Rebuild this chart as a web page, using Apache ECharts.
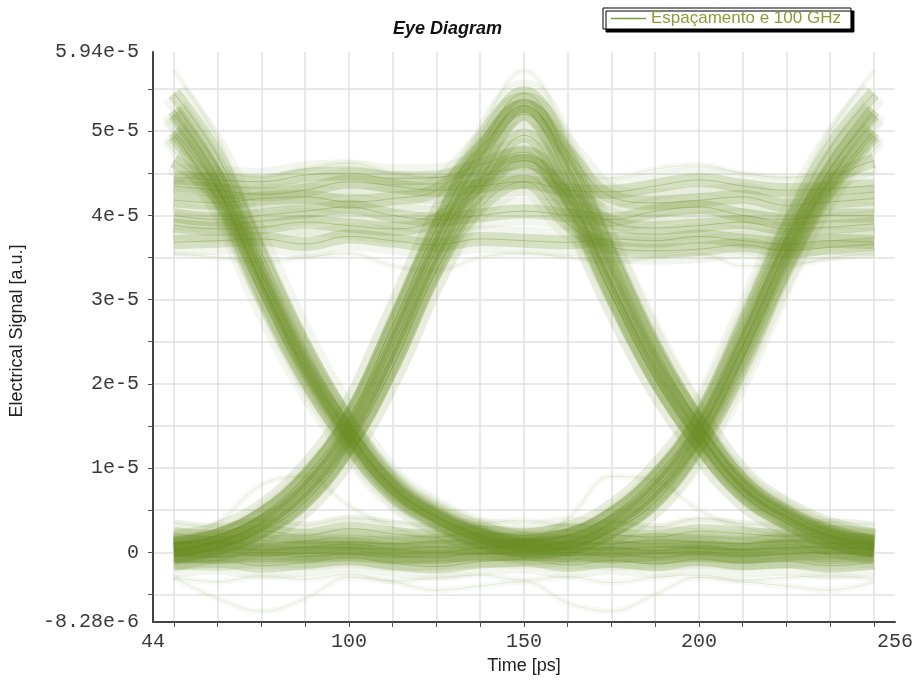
<!DOCTYPE html>
<html>
<head>
<meta charset="utf-8">
<title>Eye Diagram</title>
<script src="https://cdn.jsdelivr.net/npm/echarts@6/dist/echarts.min.js"></script>
<style>
  html, body { margin: 0; padding: 0; background: #fff; }
  #chart { width: 916px; height: 682px; }
</style>
</head>
<body>
<div id="chart"></div>
<script>
// sample times in ps (one point every 12.5 ps over two bit slots)
const times = [50, 62.5, 75, 87.5, 100, 112.5, 125, 137.5, 150, 162.5, 175, 187.5, 200, 212.5, 225, 237.5, 250];

// traces, values in units of 1e-5 a.u., grouped by 3-bit pattern
const pat000 = [
  [0.05, 0.08, 0.02, 0.06, 0.10, 0.04, 0.00, 0.05, 0.08, 0.03, 0.06, 0.02, 0.07, 0.04, 0.09, 0.05, 0.06],
  [-0.14, -0.10, -0.16, -0.12, -0.07, -0.13, -0.17, -0.11, -0.09, -0.15, -0.10, -0.14, -0.08, -0.13, -0.11, -0.16, -0.12],
  [0.22, 0.18, 0.25, 0.20, 0.28, 0.22, 0.18, 0.24, 0.20, 0.26, 0.21, 0.18, 0.25, 0.22, 0.19, 0.24, 0.20],
  [-0.03, -0.05, 0.00, -0.02, 0.02, -0.04, -0.06, -0.01, -0.03, 0.00, -0.05, -0.02, 0.01, -0.04, -0.02, 0.00, -0.03]
];
const pat111 = [
  [4.00, 3.95, 4.00, 4.05, 4.10, 4.00, 3.95, 4.00, 4.05, 4.00, 3.95, 4.05, 4.10, 4.00, 3.95, 4.00, 4.00],
  [4.35, 4.30, 4.25, 4.30, 4.40, 4.35, 4.30, 4.35, 4.40, 4.30, 4.28, 4.35, 4.42, 4.35, 4.30, 4.32, 4.35],
  [3.68, 3.70, 3.72, 3.66, 3.75, 3.70, 3.65, 3.72, 3.70, 3.68, 3.72, 3.70, 3.75, 3.70, 3.66, 3.70, 3.68]
];
const pat010 = [
  [0.02, 0.12, 0.35, 0.75, 1.42, 2.45, 3.60, 4.55, 5.20, 4.45, 3.30, 2.25, 1.42, 0.77, 0.42, 0.20, 0.08],
  [0.08, 0.20, 0.45, 0.90, 1.60, 2.70, 3.85, 4.80, 5.45, 4.70, 3.55, 2.45, 1.55, 0.85, 0.48, 0.25, 0.12],
  [-0.05, 0.05, 0.25, 0.60, 1.25, 2.20, 3.35, 4.30, 4.95, 4.20, 3.05, 2.05, 1.28, 0.68, 0.35, 0.12, 0.02]
];
const pat101 = [
  [5.20, 4.45, 3.30, 2.25, 1.42, 0.77, 0.42, 0.20, 0.08, 0.12, 0.35, 0.75, 1.42, 2.45, 3.60, 4.55, 5.20],
  [5.45, 4.70, 3.55, 2.45, 1.55, 0.85, 0.48, 0.25, 0.12, 0.20, 0.45, 0.90, 1.60, 2.70, 3.85, 4.80, 5.45],
  [4.95, 4.20, 3.05, 2.05, 1.28, 0.68, 0.35, 0.12, 0.02, 0.05, 0.25, 0.60, 1.25, 2.20, 3.35, 4.30, 4.95]
];
const pat100 = [
  [5.25, 4.45, 3.30, 2.25, 1.42, 0.77, 0.42, 0.20, 0.08, 0.05, 0.04, 0.06, 0.05, 0.03, 0.06, 0.05, 0.04],
  [4.65, 4.20, 3.20, 2.20, 1.42, 0.80, 0.45, 0.22, 0.10, 0.12, 0.10, 0.15, 0.12, 0.10, 0.14, 0.10, 0.12],
  [5.00, 4.30, 3.20, 2.15, 1.35, 0.72, 0.36, 0.14, 0.02, -0.04, -0.02, -0.06, -0.03, -0.05, -0.02, -0.06, -0.04]
];
const pat001 = [
  [0.04, 0.05, 0.03, 0.06, 0.05, 0.04, 0.06, 0.05, 0.08, 0.12, 0.35, 0.75, 1.42, 2.45, 3.60, 4.55, 5.25],
  [0.12, 0.10, 0.14, 0.11, 0.12, 0.10, 0.13, 0.15, 0.14, 0.20, 0.45, 0.90, 1.55, 2.60, 3.70, 4.40, 4.65],
  [-0.04, -0.06, -0.03, -0.05, -0.02, -0.06, -0.04, -0.02, 0.00, 0.05, 0.25, 0.60, 1.30, 2.30, 3.40, 4.35, 5.00]
];
const pat011 = [
  [0.03, 0.12, 0.35, 0.75, 1.42, 2.45, 3.60, 4.40, 4.65, 4.25, 3.92, 3.85, 3.88, 3.92, 3.84, 3.86, 3.90],
  [0.10, 0.20, 0.45, 0.90, 1.60, 2.70, 3.85, 4.75, 5.30, 4.75, 4.22, 4.15, 4.18, 4.22, 4.12, 4.16, 4.20],
  [-0.04, 0.05, 0.25, 0.60, 1.25, 2.20, 3.35, 4.10, 4.40, 3.90, 3.62, 3.58, 3.60, 3.65, 3.58, 3.62, 3.66]
];
const pat110 = [
  [3.88, 3.84, 3.86, 3.92, 3.88, 3.84, 3.95, 4.35, 4.65, 4.20, 3.20, 2.20, 1.42, 0.80, 0.45, 0.22, 0.10],
  [4.18, 4.15, 4.20, 4.22, 4.16, 4.20, 4.30, 4.80, 5.30, 4.60, 3.50, 2.40, 1.55, 0.85, 0.48, 0.25, 0.12],
  [4.45, 4.42, 4.40, 4.48, 4.50, 4.44, 4.45, 4.60, 4.75, 4.10, 3.05, 2.05, 1.28, 0.68, 0.35, 0.12, 0.02]
];
// faint outlier traces
const faint = [
  [0.10, 0.35, 0.80, 0.90, 0.55, 0.30, 0.15, 0.10, 0.12, 0.40, 0.90, 0.85, 0.50, 0.30, 0.20, 0.15, 0.10],
  [-0.30, -0.55, -0.70, -0.55, -0.30, -0.35, -0.45, -0.40, -0.35, -0.60, -0.70, -0.50, -0.30, -0.35, -0.40, -0.45, -0.35],
  [-0.30, -0.35, -0.28, -0.32, -0.26, -0.34, -0.30, -0.27, -0.33, -0.29, -0.36, -0.30, -0.27, -0.33, -0.30, -0.28, -0.32],
  [0.35, 0.30, 0.38, 0.32, 0.40, 0.36, 0.30, 0.34, 0.38, 0.32, 0.36, 0.30, 0.40, 0.34, 0.32, 0.36, 0.33],
  [4.40, 4.50, 4.45, 4.55, 4.62, 4.50, 4.45, 4.50, 4.55, 4.50, 4.45, 4.55, 4.60, 4.50, 4.45, 4.50, 4.50],
  [3.55, 3.50, 3.45, 3.50, 3.55, 3.40, 3.35, 3.50, 3.55, 3.50, 3.45, 3.50, 3.55, 3.40, 3.40, 3.50, 3.55],
  [0.10, 0.25, 0.55, 1.00, 1.70, 2.85, 4.00, 5.00, 5.72, 4.90, 3.70, 2.55, 1.62, 0.90, 0.50, 0.28, 0.15],
  [5.72, 4.90, 3.70, 2.55, 1.62, 0.90, 0.50, 0.28, 0.15, 0.25, 0.55, 1.00, 1.70, 2.85, 4.00, 5.00, 5.72]
];

// axes
const xGridTicks = [50, 62.5, 75, 87.5, 100, 112.5, 125, 137.5, 150, 162.5, 175, 187.5, 200, 212.5, 225, 237.5, 250];
const xLabelVals = [44, 100, 150, 200, 256];
const yGridTicks = [-0.5, 0, 0.5, 1, 1.5, 2, 2.5, 3, 3.5, 4, 4.5, 5, 5.5];
const yLabelVals = [-0.828, 0, 1, 2, 3, 4, 5, 5.94];
const yLabelText = ['-8.28e-6', '0', '1e-5', '2e-5', '3e-5', '4e-5', '5e-5', '5.94e-5'];

const seriesName = 'Espaçamento e 100 GHz';
const olive = '#6b8e23';

const layers = [
  { width: 28, opacity: 0.08 },
  { width: 14, opacity: 0.21 },
  { width: 1, opacity: 0.35 }
];

function toPoints(vals) {
  return times.map((t, i) => [t, vals[i]]);
}

function traceSeries(vals, width, opacity) {
  return {
    name: seriesName,
    type: 'line',
    data: toPoints(vals),
    smooth: 0.4,
    symbol: 'none',
    silent: true,
    color: olive,
    lineStyle: { color: olive, width: width, opacity: opacity, cap: 'butt', join: 'round' }
  };
}

const series = [];
[pat000, pat111, pat010, pat101, pat100, pat001, pat011, pat110].forEach(group => {
  group.forEach(vals => {
    layers.forEach(l => series.push(traceSeries(vals, l.width, l.opacity)));
  });
});
faint.forEach(vals => {
  series.push(traceSeries(vals, 6, 0.05));
  series.push(traceSeries(vals, 1, 0.13));
});

const chart = echarts.init(document.getElementById('chart'), null, { renderer: 'canvas' });

const monoLabel = { fontFamily: 'Liberation Mono', fontSize: 20, color: '#3a3a3a' };
const nameStyle = { fontFamily: 'Liberation Sans', fontSize: 18, color: '#222' };

chart.setOption({
  animation: false,
  backgroundColor: '#fff',
  title: {
    text: 'Eye Diagram',
    left: 393,
    top: 20,
    padding: 0,
    textStyle: { fontFamily: 'Liberation Sans', fontSize: 18, fontWeight: 'bold', fontStyle: 'italic', color: '#111' }
  },
  legend: {
    data: [{ name: seriesName }],
    left: 603,
    top: 8,
    padding: [2, 10, 2, 8],
    icon: 'path://M0,0 L35,0 L35,1.5 L0,1.5 Z',
    itemWidth: 35,
    itemHeight: 14,
    backgroundColor: '#fff',
    borderColor: '#000',
    borderWidth: 1,
    borderRadius: 0,
    shadowColor: '#000',
    shadowBlur: 0,
    shadowOffsetX: 3,
    shadowOffsetY: 3,
    itemStyle: { color: '#7a9a3f', opacity: 1 },
    textStyle: { fontFamily: 'Liberation Sans', fontSize: 17, color: '#8c9c3a' }
  },
  grid: { left: 153, right: 21, top: 52, bottom: 60, containLabel: false },
  xAxis: {
    type: 'value',
    min: 44,
    max: 256,
    name: 'Time [ps]',
    nameLocation: 'middle',
    nameGap: 34,
    nameTextStyle: nameStyle,
    axisLine: { onZero: false, lineStyle: { color: '#444', width: 2 } },
    axisTick: { customValues: xGridTicks, length: 5, lineStyle: { color: '#555' } },
    axisLabel: Object.assign({ customValues: xLabelVals, margin: 10 }, monoLabel),
    splitLine: { show: true, lineStyle: { color: '#e2e2e2', width: 1.5 } }
  },
  yAxis: {
    type: 'value',
    min: -0.828,
    max: 5.94,
    name: 'Electrical Signal [a.u.]',
    nameLocation: 'middle',
    nameGap: 127,
    nameTextStyle: Object.assign({ padding: [0, 0, 0, 12] }, nameStyle),
    axisLine: { onZero: false, lineStyle: { color: '#444', width: 2 } },
    axisTick: { customValues: yGridTicks, length: 5, lineStyle: { color: '#555' } },
    axisLabel: Object.assign({
      customValues: yLabelVals,
      margin: 14,
      formatter: function (v) {
        for (let i = 0; i < yLabelVals.length; i++) {
          if (Math.abs(yLabelVals[i] - v) < 1e-9) return yLabelText[i];
        }
        return '';
      }
    }, monoLabel),
    splitLine: { show: true, lineStyle: { color: '#e2e2e2', width: 1.5 } }
  },
  series: series
});
</script>
</body>
</html>
